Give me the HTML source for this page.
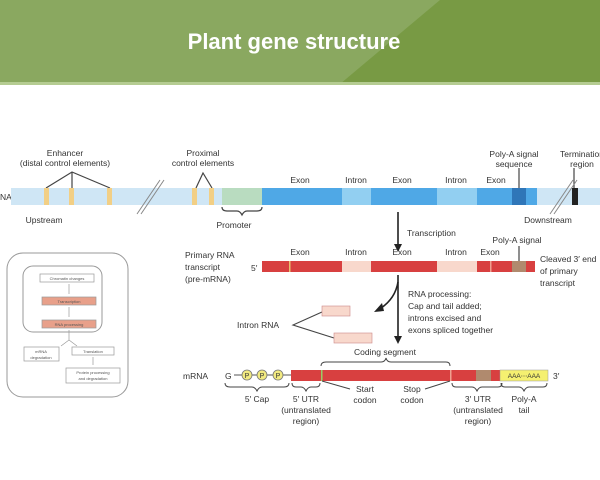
<!DOCTYPE html>
<html><head><meta charset="utf-8"><style>
body{margin:0;width:600px;height:480px;background:#fff;overflow:hidden;font-family:"Liberation Sans",sans-serif}
svg{display:block}
</style></head><body>
<svg width="600" height="480" viewBox="0 0 600 480" font-family="Liberation Sans, sans-serif">
<rect x="0" y="0" width="600" height="84" fill="#8aa860"/>
<polygon points="440,0 600,0 600,84 340,84" fill="#789a44"/>
<rect x="0" y="82" width="600" height="3" fill="#b5cc92"/>
<text x="294" y="49" text-anchor="middle" fill="#fff" font-size="22" font-weight="bold">Plant gene structure</text>

<g font-size="8.5" fill="#333" text-anchor="middle">
<text x="65" y="156">Enhancer</text><text x="65" y="166">(distal control elements)</text>
<text x="203" y="156">Proximal</text><text x="203" y="166">control elements</text>
<text x="300" y="183">Exon</text><text x="356" y="183">Intron</text><text x="402" y="183">Exon</text>
<text x="456" y="183">Intron</text><text x="496" y="183">Exon</text>
<text x="514" y="157">Poly-A signal</text><text x="514" y="167">sequence</text>
<text x="582" y="157">Termination</text><text x="582" y="167">region</text>
<text x="44" y="223">Upstream</text><text x="234" y="228">Promoter</text><text x="548" y="223">Downstream</text>
</g>
<text x="0" y="200" font-size="8.5" fill="#333">NA</text>
<g stroke="#444" stroke-width="1.2" fill="none">
<path d="M46,188 L72,172 L110,188 M72,172 L72,188"/>
<path d="M196,188 L203,173 L212,188"/>
<line x1="519" y1="168" x2="519" y2="192"/><line x1="574" y1="168" x2="574" y2="192"/>
<path d="M222,207 q0,4 5,4 h10 q3,0 5,4 q2,-4 5,-4 h10 q5,0 5,-4"/>
</g>
<rect x="11" y="188" width="589" height="17" fill="#cfe6f5"/>
<g fill="#f2cf85"><rect x="44" y="188" width="5" height="17"/><rect x="69" y="188" width="5" height="17"/><rect x="107" y="188" width="5" height="17"/><rect x="192" y="188" width="5" height="17"/><rect x="209" y="188" width="5" height="17"/></g>
<rect x="222" y="188" width="40" height="17" fill="#b9dcc0"/>
<rect x="262" y="188" width="275" height="17" fill="#4fa8e6"/>
<rect x="342" y="188" width="29" height="17" fill="#92cff1"/><rect x="437" y="188" width="40" height="17" fill="#92cff1"/>
<rect x="512" y="188" width="14" height="17" fill="#2f76b8"/>
<rect x="572" y="188" width="6" height="17" fill="#222"/>
<g stroke="#888" stroke-width="1"><line x1="137" y1="214" x2="160" y2="180"/><line x1="141" y1="214" x2="164" y2="180"/><line x1="550" y1="214" x2="573" y2="180"/><line x1="554" y1="214" x2="577" y2="180"/></g>

<g stroke="#222" stroke-width="1.6" fill="none"><line x1="398" y1="212" x2="398" y2="246"/><line x1="398" y1="275" x2="398" y2="338"/><path d="M398,282 Q395,300 378,310"/></g>
<g fill="#222"><polygon points="394,244 402,244 398,252"/><polygon points="394,336 402,336 398,344"/><polygon points="374,312 382,303 384,311"/></g>
<text x="407" y="236" font-size="8.5" fill="#333">Transcription</text>

<g font-size="8.5" fill="#333">
<text x="185" y="258">Primary RNA</text><text x="185" y="270">transcript</text><text x="185" y="282">(pre-mRNA)</text>
<text x="251" y="271">5′</text>
<text x="540" y="262">Cleaved 3′ end</text><text x="540" y="274">of primary</text><text x="540" y="286">transcript</text>
<text x="408" y="297">RNA processing:</text><text x="408" y="309">Cap and tail added;</text><text x="408" y="321">introns excised and</text><text x="408" y="333">exons spliced together</text>
<text x="237" y="328">Intron RNA</text>
</g>
<g font-size="8.5" fill="#333" text-anchor="middle">
<text x="300" y="255">Exon</text><text x="356" y="255">Intron</text><text x="402" y="255">Exon</text><text x="456" y="255">Intron</text><text x="490" y="255">Exon</text>
<text x="517" y="243">Poly-A signal</text>
</g>
<line x1="519" y1="246" x2="519" y2="262" stroke="#444" stroke-width="1.2"/>
<rect x="262" y="261" width="273" height="11" fill="#d84040"/>
<rect x="342" y="261" width="29" height="11" fill="#f8d8cc"/><rect x="437" y="261" width="40" height="11" fill="#f8d8cc"/>
<rect x="289" y="261" width="1.5" height="11" fill="#e8c070"/><rect x="490" y="261" width="1.5" height="11" fill="#f0a090"/>
<rect x="512" y="261" width="14" height="11" fill="#b08a6e"/>
<g stroke="#444" stroke-width="1.1" fill="none"><path d="M322,312 L293,325 L334,338"/></g>
<rect x="322" y="306" width="28" height="10" fill="#f8d8cc" stroke="#c88" stroke-width="0.6"/>
<rect x="334" y="333" width="38" height="10" fill="#f8d8cc" stroke="#c88" stroke-width="0.6"/>

<text x="183" y="379" font-size="8.5" fill="#333">mRNA</text>
<text x="225" y="379" font-size="8.5" fill="#333">G</text>
<line x1="234" y1="375" x2="292" y2="375" stroke="#555" stroke-width="1"/>
<g fill="#f2ea80" stroke="#777" stroke-width="0.8"><circle cx="247" cy="375" r="5"/><circle cx="262" cy="375" r="5"/><circle cx="278" cy="375" r="5"/></g>
<g font-size="7" fill="#333" text-anchor="middle"><text x="247" y="378">P</text><text x="262" y="378">P</text><text x="278" y="378">P</text></g>
<rect x="291" y="370" width="209" height="11" fill="#d84040"/>
<rect x="321" y="370" width="1.5" height="11" fill="#9c6"/><rect x="450" y="370" width="1.5" height="11" fill="#f0a090"/>
<rect x="476" y="370" width="15" height="11" fill="#b08a6e"/>
<rect x="500" y="370" width="48" height="11" fill="#f5f070" stroke="#999" stroke-width="0.5"/>
<text x="524" y="378" font-size="6.5" fill="#333" text-anchor="middle">AAA⋯AAA</text>
<text x="553" y="379" font-size="8.5" fill="#333">3′</text>
<g stroke="#444" stroke-width="1" fill="none">
<path d="M321,366 q0,-4 5,-4 h55 q4,0 5,-4 q1,4 5,4 h55 q4,0 4,4"/>
<path d="M225,383 q0,4 5,4 h22 q3,0 5,4 q2,-4 5,-4 h22 q5,0 5,-4"/>
<path d="M292,383 q0,4 4,4 h5 q3,0 5,4 q2,-4 5,-4 h5 q4,0 4,-4"/>
<path d="M452,383 q0,4 4,4 h16 q3,0 5,4 q2,-4 5,-4 h16 q4,0 4,-4"/>
<path d="M501,383 q0,4 4,4 h14 q3,0 5,4 q2,-4 5,-4 h14 q4,0 4,-4"/>
<line x1="322" y1="381" x2="350" y2="389"/><line x1="450" y1="381" x2="425" y2="389"/>
</g>
<g font-size="8.5" fill="#333" text-anchor="middle">
<text x="385" y="355">Coding segment</text>
<text x="257" y="402">5′ Cap</text><text x="306" y="402">5′ UTR</text><text x="306" y="413">(untranslated</text><text x="306" y="424">region)</text>
<text x="365" y="392">Start</text><text x="365" y="403">codon</text><text x="412" y="392">Stop</text><text x="412" y="403">codon</text>
<text x="478" y="402">3′ UTR</text><text x="478" y="413">(untranslated</text><text x="478" y="424">region)</text>
<text x="524" y="402">Poly-A</text><text x="524" y="413">tail</text>
</g>

<rect x="7" y="253" width="121" height="144" rx="16" fill="none" stroke="#999" stroke-width="1"/>
<rect x="23" y="266" width="79" height="66" rx="10" fill="none" stroke="#999" stroke-width="1"/>
<g stroke="#999" stroke-width="0.7">
<rect x="40" y="274" width="54" height="8" fill="#fff"/>
<rect x="42" y="297" width="54" height="8" fill="#e8a08a"/>
<rect x="42" y="320" width="54" height="8" fill="#e8a08a"/>
<rect x="24" y="347" width="35" height="14" fill="#fff"/>
<rect x="72" y="347" width="42" height="8" fill="#fff"/>
<rect x="66" y="368" width="54" height="15" fill="#fff"/>
<path d="M69,284 v10 M69,307 v10 M69,330 v10 l-8,6 M69,340 l8,6 M93,357 v8" fill="none"/>
</g>
<g font-size="4" fill="#555" text-anchor="middle">
<text x="67" y="280">Chromatin changes</text><text x="69" y="303">Transcription</text><text x="69" y="326">RNA processing</text>
<text x="41" y="353">mRNA</text><text x="41" y="359">degradation</text><text x="93" y="353">Translation</text>
<text x="93" y="374">Protein processing</text><text x="93" y="380">and degradation</text>
</g>
</svg>
</body></html>
